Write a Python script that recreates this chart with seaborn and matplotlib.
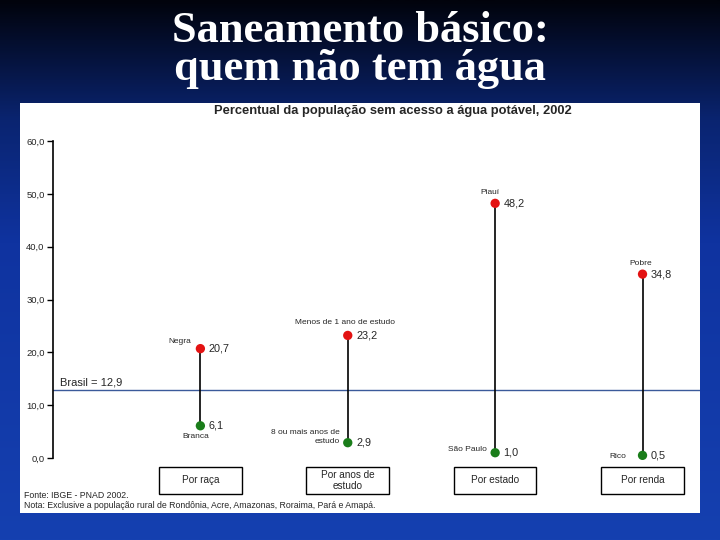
import numpy as np
import pandas as pd
import seaborn as sns
import matplotlib.pyplot as plt
from matplotlib.colors import LinearSegmentedColormap
from matplotlib.patches import Rectangle

# chart data
groups = ["Por raça", "Por anos de\nestudo", "Por estado", "Por renda"]
high_vals = [20.7, 23.2, 48.2, 34.8]
low_vals = [6.1, 2.9, 1.0, 0.5]
high_names = ["Negra", "Menos de 1 ano de estudo", "Piauí", "Pobre"]
low_names = ["Branca", "8 ou mais anos de\nestudo", "São Paulo", "Rico"]
brasil = 12.9
y_ticks = [0, 10, 20, 30, 40, 50, 60]

# label layout (offsets in points)
high_offsets = [(-15, 5, "center"), (-2, 9, "center"), (-4, 8, "center"), (-1, 8, "center")]
low_offsets = [(-3, -8, "center"), (-6, 4, "right"), (-6, 2, "right"), (-12, -1, "right")]


def fmt(v):
    return f"{v:.1f}".replace(".", ",")


df = pd.DataFrame({
    "pos": list(range(len(groups))) * 2,
    "valor": high_vals + low_vals,
    "tipo": ["alto"] * len(groups) + ["baixo"] * len(groups),
})

sns.set_style("white")
plt.rcParams["font.family"] = ["Liberation Sans", "DejaVu Sans"]

fig = plt.figure(figsize=(7.2, 5.4), dpi=100)

# slide background gradient
bg = fig.add_axes([0, 0, 1, 1], zorder=0)
cmap = LinearSegmentedColormap.from_list(
    "slide", [(0, "#01030c"), (0.22, "#0a2470"), (0.45, "#0f33a0"), (1, "#1540b0")])
bg.imshow(np.linspace(0, 1, 256).reshape(-1, 1), aspect="auto", cmap=cmap,
          extent=[0, 1, 0, 1], origin="upper")
bg.set_axis_off()

# white panel
fig.patches.append(Rectangle((20 / 720, 1 - 513 / 540), 680 / 720, 410 / 540,
                             transform=fig.transFigure, facecolor="white",
                             edgecolor="none", zorder=1))

fig.text(0.5, 1 - 31 / 540, "Saneamento básico:", ha="center", va="center",
         color="white", fontsize=32, fontweight="bold", family="Liberation Serif")
fig.text(0.5, 1 - 69 / 540, "quem não tem água", ha="center", va="center",
         color="white", fontsize=32, fontweight="bold", family="Liberation Serif")

ax = fig.add_axes([53 / 720, 1 - 458 / 540, 647 / 720, 317 / 540], zorder=2)
ax.set_facecolor("none")

ax.axhline(brasil, color="#3b5a9a", lw=1.0, zorder=1)
ax.text(0.05 - 1.0, brasil + 0.5, "Brasil = 12,9", fontsize=8, va="bottom", ha="left")

ax.vlines(range(len(groups)), low_vals, high_vals, color="black", lw=1.2, zorder=2)
sns.scatterplot(data=df, x="pos", y="valor", hue="tipo",
                palette={"alto": "#e31212", "baixo": "#1a7d1a"},
                s=45, edgecolor="none", legend=False, ax=ax, zorder=3, clip_on=False)

for i, (hv, lv) in enumerate(zip(high_vals, low_vals)):
    ax.annotate(fmt(hv), (i, hv), xytext=(6, 0), textcoords="offset points",
                ha="left", va="center", fontsize=7.8)
    ax.annotate(fmt(lv), (i, lv), xytext=(6, 0), textcoords="offset points",
                ha="left", va="center", fontsize=7.8)
    dx, dy, ha = high_offsets[i]
    ax.annotate(high_names[i], (i, hv), xytext=(dx, dy), textcoords="offset points",
                ha=ha, va="center", fontsize=6)
    dx, dy, ha = low_offsets[i]
    ax.annotate(low_names[i], (i, lv), xytext=(dx, dy), textcoords="offset points",
                ha=ha, va="center", fontsize=6, linespacing=1.3)
    # category box under each group
    ax.add_patch(Rectangle((i - 0.28, -6.8), 0.56, 5.1, facecolor="white",
                           edgecolor="black", lw=1.0, clip_on=False))
    ax.text(i, -4.25, groups[i], ha="center", va="center", fontsize=7.2, linespacing=1.1)

ax.set_xlim(-1.0, 3.39)
ax.set_ylim(0, 60)
ax.set_yticks(y_ticks)
ax.set_yticklabels([fmt(t) for t in y_ticks], fontsize=6.8)
ax.set_xticks([])
ax.set_xlabel("")
ax.set_ylabel("")
ax.tick_params(axis="y", direction="out", length=4, width=1, color="black", pad=2, left=True)
sns.despine(ax=ax, bottom=True, right=True, top=True)
ax.spines["left"].set_color("black")
ax.spines["left"].set_linewidth(1.2)

fig.text(393 / 720, 1 - 111 / 540, "Percentual da população sem acesso a água potável, 2002",
         ha="center", va="center", fontsize=9.3, fontweight="bold", zorder=3)
fig.text(24 / 720, 1 - 496 / 540, "Fonte: IBGE - PNAD 2002.", ha="left", va="center",
         fontsize=6.3, zorder=3)
fig.text(24 / 720, 1 - 506 / 540,
         "Nota: Exclusive a população rural de Rondônia, Acre, Amazonas, Roraima, Pará e Amapá.",
         ha="left", va="center", fontsize=6.3, zorder=3)

fig.savefig("out.png", dpi=100)
